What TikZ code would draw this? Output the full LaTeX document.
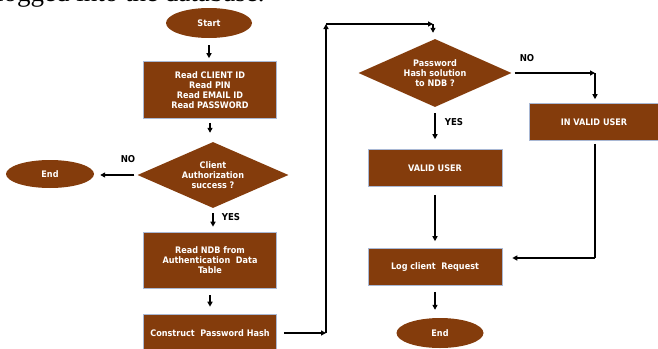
\documentclass[tikz,border=0pt]{standalone}
\usepackage{fontspec}
\setmainfont{Liberation Serif}
\newfontfamily\boxfont{DejaVu Sans Condensed}
\usetikzlibrary{shapes.geometric,arrows.meta,calc}
\definecolor{boxbrown}{HTML}{843C0C}
\definecolor{boxedge}{HTML}{A9B8D4}
\tikzset{
  every node/.style={font=\boxfont\bfseries\fontsize{9}{10}\selectfont},
  proc/.style={rectangle, fill=boxbrown, draw=boxedge, line width=0.6pt,
    text=white, align=center, inner sep=0pt},
  term/.style={ellipse, fill=boxbrown, text=white, inner sep=0pt},
  decide/.style={diamond, aspect=2.3, fill=boxbrown, text=white, align=center, inner sep=0pt},
  lbl/.style={text=black, font=\boxfont\bfseries\fontsize{9.5}{10}\selectfont},
  arr/.style={line width=1.5pt, -{Triangle[length=5pt,width=5pt]}},
  plain/.style={line width=1.5pt}
}
\begin{document}
\begin{tikzpicture}[x=1pt,y=-1pt]
\useasboundingbox (0,0) rectangle (658,348);
\clip (0,0) rectangle (658,348);

% tail of the sentence above the chart, cut by the top edge
\node[anchor=base west, inner sep=0pt, font=\rmfamily\fontsize{27}{30}\selectfont]
  (caption) at (-4,1.5) {logged into the database.};

% left column
\node[term, minimum width=86pt, minimum height=30pt] (start) at (209,23) {Start};
\node[proc, minimum width=133pt, minimum height=57pt] (read) at (210,90)
  {Read CLIENT ID\\Read PIN\\Read EMAIL ID\\Read PASSWORD};
\node[decide, minimum width=151pt, minimum height=66pt] (auth) at (213,175)
  {Client\\Authorization\\success ?};
\node[term, minimum width=88pt, minimum height=28pt] (endl) at (50,174) {End};
\node[proc, minimum width=133pt, minimum height=56pt] (ndb) at (210,260)
  {Read NDB from\\Authentication\ \ Data\\Table};
\node[proc, minimum width=133pt, minimum height=38pt] (hash) at (210,333)
  {Construct\ \ Password Hash};

% right part
\node[decide, minimum width=153pt, minimum height=68pt] (pwd) at (435,73)
  {Password\\Hash solution\\to NDB ?};
\node[proc, minimum width=134pt, minimum height=37pt] (valid) at (435,168) {VALID USER};
\node[proc, minimum width=129pt, minimum height=37pt] (invalid) at (594,122) {IN VALID USER};
\node[proc, minimum width=134pt, minimum height=37pt] (log) at (435,267) {Log client\ \ Request};
\node[term, minimum width=87pt, minimum height=30pt] (endr) at (440,333) {End};

% branch labels
\node[lbl] (no1) at (128,159) {NO};
\node[lbl] (yes1) at (231,217) {YES};
\node[lbl] (yes2) at (454,122) {YES};
\node[lbl] (no2) at (527,58) {NO};

% routing points
\coordinate (c1) at (326,333);
\coordinate (c2) at (326,24);
\coordinate (c3) at (433,24);
\coordinate (c4) at (595,73);
\coordinate (c5) at (595,258);

% connectors, left column
\draw[arr, shorten <=7pt, shorten >=3pt] (start.south) -- (start.south |- read.north);
\draw[arr, shorten <=4pt, shorten >=9pt] (read.south) -- (read.south |- auth.north);
\draw[arr, shorten <=3pt, shorten >=6pt] (auth.west) -- (auth.west -| endl.east);
\draw[arr, shorten <=5pt, shorten >=5pt] (auth.south) -- (auth.south |- ndb.north);
\draw[arr, shorten <=7pt, shorten >=7pt] (ndb.south) -- (ndb.south |- hash.north);

% connectors, loop over to the hash check
\draw[arr, shorten <=7pt] (hash.east) -- (c1);
\draw[arr] (c1) -- (c2);
\draw[arr] (c2) -- (c3);
\draw[arr, shorten >=6pt] (c3) -- (c3 |- pwd.north);

% connectors, right part
\draw[arr, shorten <=3pt] (pwd.east) -- (c4);
\draw[arr, shorten >=4pt] (c4) -- (invalid.north -| c4);
\draw[arr, shorten <=6pt, shorten >=10pt] (pwd.south) -- (valid.north);
\draw[arr, shorten <=8pt, shorten >=7pt] (valid.south) -- (log.north);
\draw[arr, shorten <=6pt, shorten >=8pt] (log.south) -- (log.south |- endr.north);
\draw[plain, shorten <=3pt] (invalid.south -| c5) -- (c5);
\draw[arr, shorten >=10pt] (c5) -- (c5 -| log.east);
\end{tikzpicture}
\end{document}
